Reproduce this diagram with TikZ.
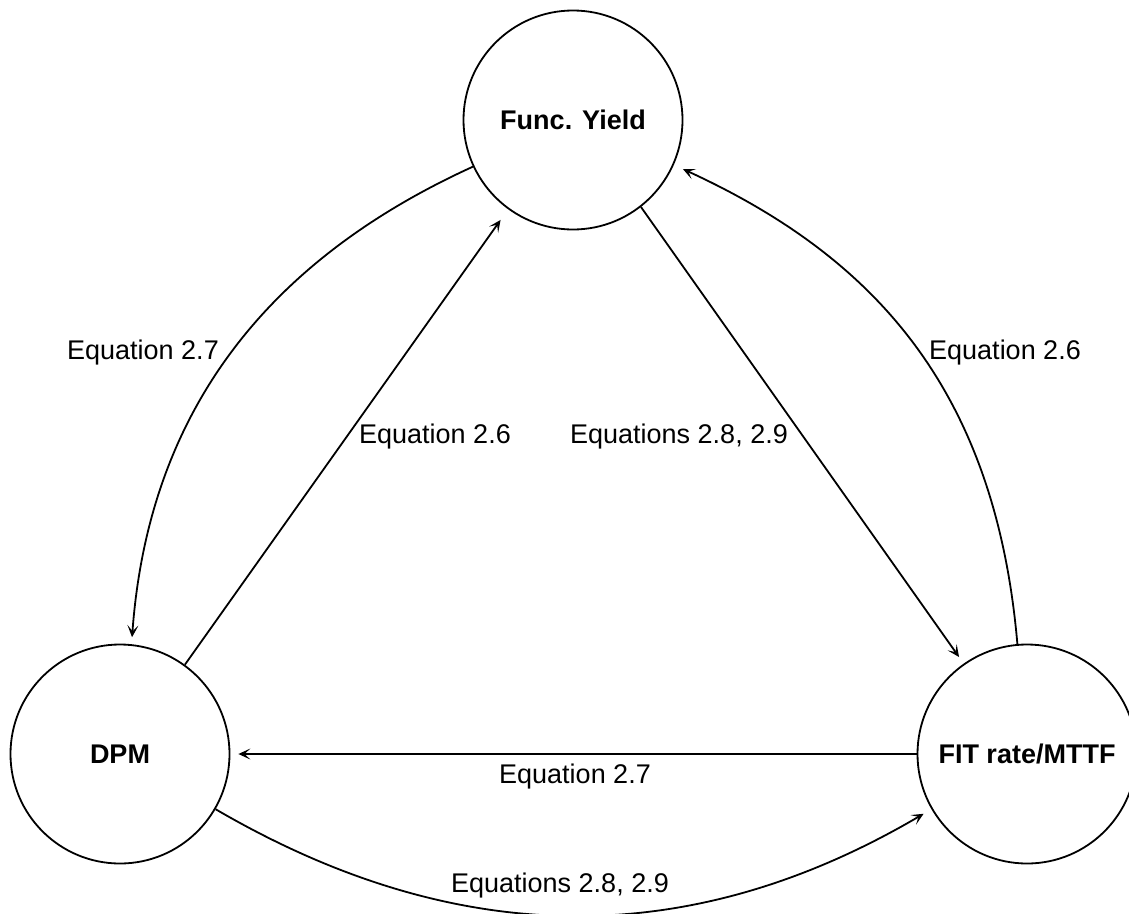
\documentclass[tikz,border=0pt]{standalone}
\usepackage{fontspec}
\setmainfont{Liberation Sans}
\usetikzlibrary{arrows.meta}
\tikzset{
  state/.style={circle, draw, line width=1.8pt, minimum size=219pt, inner sep=0pt,
    font=\fontsize{27}{32}\selectfont\bfseries},
  conn/.style={line width=1.8pt, -{Stealth[length=12pt,width=11pt,inset=6pt]}},
  lbl/.style={font=\fontsize{27}{32}\selectfont, inner sep=0pt}
}
\begin{document}
\begin{tikzpicture}[x=1pt,y=-1pt]
\useasboundingbox (0,0) rectangle (1129,913);
\node[state] (fy) at (573,120) {Func. Yield};
\node[state] (dpm) at (120,754) {DPM};
\node[state] (fit) at (1027,754) {FIT rate/MTTF};

% Func. Yield -> DPM (curved, left)
\draw[conn, shorten >=7pt] (fy.205) .. controls (290,250) and (150,390) .. (dpm.84);
% DPM -> Func. Yield (straight)
\draw[conn, shorten >=13pt] (dpm.54) -- (fy.234);
% Func. Yield -> FIT (straight)
\draw[conn, shorten >=8pt] (fy.-52.4) -- (fit.125.4);
% FIT -> Func. Yield (curved, right)
\draw[conn, shorten >=10pt] (fit.95) .. controls (995,385) and (870,255) .. (fy.-24.4);
% FIT -> DPM (horizontal)
\draw[conn, shorten >=8pt] (fit.180) -- (dpm.0);
% DPM -> FIT (curved, bottom)
\draw[conn, shorten >=9pt] (dpm.-30) .. controls (457,950) and (690,951) .. (fit.210.6);

\node[lbl] (l1) at (143,353) {Equation 2.7};
\node[lbl] (l2) at (435,437) {Equation 2.6};
\node[lbl] (l3) at (679,437) {Equations 2.8, 2.9};
\node[lbl] (l4) at (1005,353) {Equation 2.6};
\node[lbl] (l5) at (575,777) {Equation 2.7};
\node[lbl] (l6) at (560,886) {Equations 2.8, 2.9};
\end{tikzpicture}
\end{document}
